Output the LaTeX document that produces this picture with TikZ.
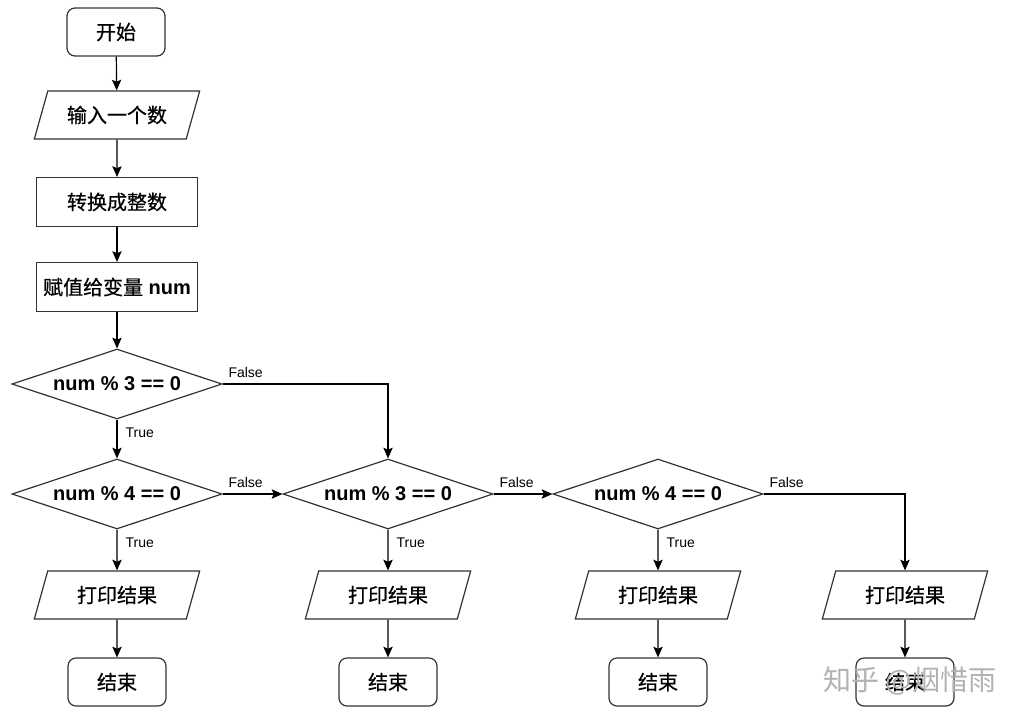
\documentclass[tikz,border=0pt]{standalone}
\usepackage{fontspec}
\setmainfont{Liberation Sans}
\newfontfamily\cjk[FakeBold=0.6]{Noto Sans CJK SC}
\newfontfamily\cjkwm{Noto Sans CJK SC}
\usetikzlibrary{shapes.geometric,arrows.meta}

\tikzset{
  base/.style={draw=black!80, line width=0.9pt, inner sep=0pt,
    font=\fontsize{15}{18}\selectfont},
  terminal/.style={base, rectangle, rounded corners=6pt,
    minimum width=73.5pt, minimum height=36pt},
  io/.style={base, trapezium, trapezium left angle=54, trapezium right angle=126,
    trapezium stretches body, minimum width=124pt, minimum height=36pt},
  process/.style={base, rectangle, minimum width=121pt, minimum height=36.75pt},
  decision/.style={base, diamond, aspect=3, minimum width=157.5pt, minimum height=52.5pt},
  flow/.style={-{Stealth[length=8pt,width=7pt,inset=1.5pt]}, line width=0.9pt},
  lbl/.style={font=\fontsize{10.5}{12}\selectfont, inner sep=2pt}
}

\begin{document}
\begin{tikzpicture}[x=0.75pt,y=-0.75pt]
\path[use as bounding box, fill=white] (0,0) rectangle (1024,722);

% main column
\node[terminal] (start)  at (116,32)  {\cjk 开始};
\node[io]       (input)  at (117,115) {\cjk 输入一个数};
\node[process]  (conv)   at (117,202) {\cjk 转换成整数};
\node[process]  (assign) at (117,287) {{\cjk 赋值给变量} \textbf{num}};

% tests
\node[decision] (mthree)  at (117,384) {\textbf{num \% 3 == 0}};
\node[decision] (mfour)   at (117,494) {\textbf{num \% 4 == 0}};
\node[decision] (mthreeb) at (388,494) {\textbf{num \% 3 == 0}};
\node[decision] (mfourb)  at (658,494) {\textbf{num \% 4 == 0}};

% outputs and ends
\foreach \k/\x in {A/117,B/388,C/658,D/905}{
  \node[io]       (pr\k)  at (\x,595) {\cjk 打印结果};
  \node[terminal] (end\k) at (\x,682) {\cjk 结束};
  \draw[flow] (pr\k) -- (end\k);
}

\draw[flow] (start) -- (input);
\draw[flow] (input) -- (conv);
\draw[flow] (conv) -- (assign);
\draw[flow] (assign) -- (mthree);

\draw[flow] (mthree.south) node[lbl, below right=4pt] {True} -- (mfour.north);
\draw[flow] (mthree.east) node[lbl, above right=2pt] {False} -| (mthreeb.north);
\draw[flow] (mfour.south) node[lbl, below right=4pt] {True} -- (prA);
\draw[flow] (mfour.east) node[lbl, above right=2pt] {False} -- (mthreeb.west);
\draw[flow] (mthreeb.south) node[lbl, below right=4pt] {True} -- (prB);
\draw[flow] (mthreeb.east) node[lbl, above right=2pt] {False} -- (mfourb.west);
\draw[flow] (mfourb.south) node[lbl, below right=4pt] {True} -- (prC);
\draw[flow] (mfourb.east) node[lbl, above right=2pt] {False} -| (prD.north);

% watermark
\node[text=black!30, font=\cjkwm\fontsize{21}{24}\selectfont] (mark) at (910,681) {知乎 @烟惜雨};
\end{tikzpicture}
\end{document}
